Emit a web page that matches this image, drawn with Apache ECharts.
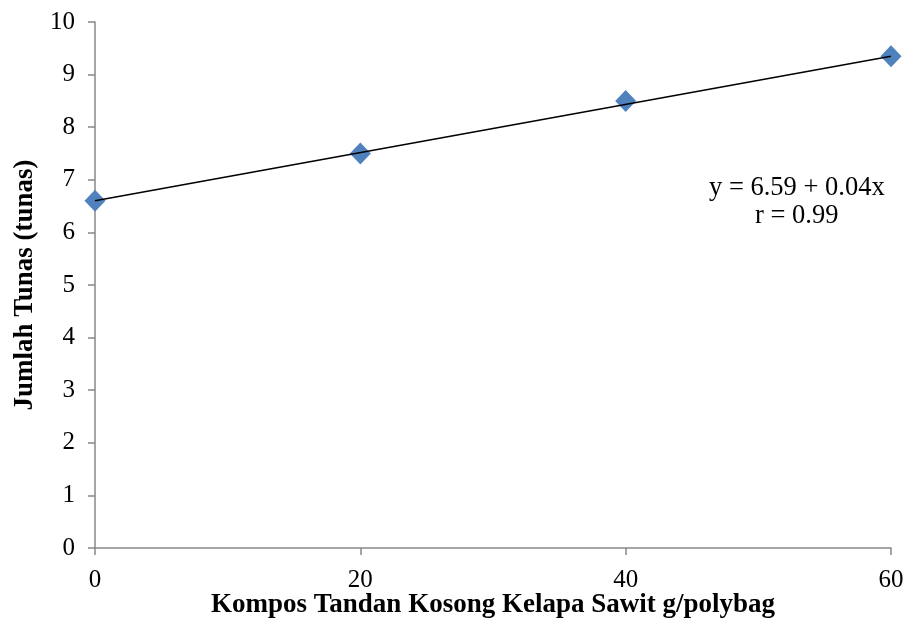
<!DOCTYPE html>
<html><head><meta charset="utf-8">
<script src="https://cdn.jsdelivr.net/npm/echarts@6/dist/echarts.min.js"></script>
<style>html,body{margin:0;padding:0;background:#fff}#c{width:909px;height:621px}</style>
</head><body><div id="c"></div>
<script>
const xValues = [0, 20, 40, 60];
const yValues = [6.6, 7.5, 8.5, 9.35];
const trendX = [0, 60];
const trendY = [6.6, 9.35];
const xTicks = [0, 20, 40, 60];
const yTicks = [0,1,2,3,4,5,6,7,8,9,10];
const equationText = 'y = 6.59 + 0.04x';
const rText = 'r = 0.99';

const chart = echarts.init(document.getElementById('c'));
const font = 'Liberation Serif';
const axisColor = '#888888';
chart.setOption({
  animation: false,
  backgroundColor: '#fff',
  grid: {left: 95, right: 18, top: 22, bottom: 73, containLabel: false, outerBoundsMode: 'none'},
  xAxis: {
    type: 'value', min: 0, max: 60, interval: 20,
    name: 'Kompos Tandan Kosong Kelapa Sawit g/polybag',
    nameLocation: 'middle', nameGap: 44, nameMoveOverlap: false,
    nameTextStyle: {fontFamily: font, fontWeight: 'bold', fontSize: 27, color: '#000'},
    axisLine: {show: true, lineStyle: {color: axisColor, width: 1.5}},
    axisTick: {show: true, length: 7, inside: false, lineStyle: {color: axisColor, width: 1.5}},
    axisLabel: {fontFamily: font, fontSize: 25, color: '#000', margin: 20},
    splitLine: {show: false}
  },
  yAxis: {
    type: 'value', min: 0, max: 10, interval: 1,
    name: 'Jumlah Tunas (tunas)',
    nameLocation: 'middle', nameGap: 56, nameMoveOverlap: false,
    nameTextStyle: {fontFamily: font, fontWeight: 'bold', fontSize: 27, color: '#000'},
    axisLine: {show: true, lineStyle: {color: axisColor, width: 1.5}},
    axisTick: {show: true, length: 7, inside: false, lineStyle: {color: axisColor, width: 1.5}},
    axisLabel: {fontFamily: font, fontSize: 25, color: '#000', margin: 20},
    splitLine: {show: false}
  },
  series: [
    {
      type: 'line',
      data: trendX.map((x, i) => [x, trendY[i]]),
      showSymbol: false, symbol: 'none',
      lineStyle: {color: '#000', width: 1.5},
      z: 3
    },
    {
      type: 'scatter',
      data: xValues.map((x, i) => [x, yValues[i]]),
      symbol: 'diamond', symbolSize: [21, 22],
      itemStyle: {color: '#4F81BD', opacity: 1},
      z: 2
    }
  ],
  graphic: [
    {type: 'text', left: 709, top: 175, style: {text: equationText, fontFamily: font, fontSize: 26.5, fill: '#000'}},
    {type: 'text', left: 755, top: 203, style: {text: rText, fontFamily: font, fontSize: 26.5, fill: '#000'}}
  ]
});
</script></body></html>
